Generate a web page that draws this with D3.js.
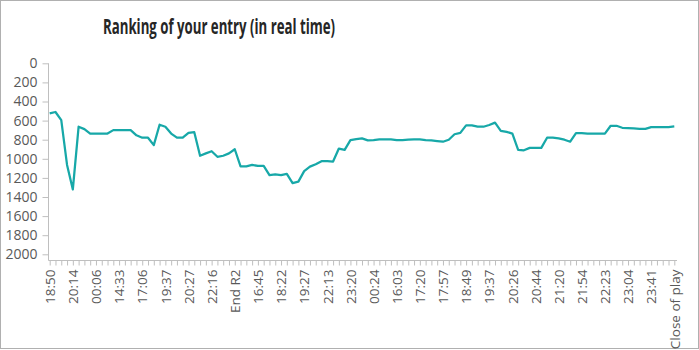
<!DOCTYPE html>
<html>
<head>
<meta charset="utf-8">
<script src="https://cdn.jsdelivr.net/npm/d3@7"></script>
<style>
  html, body { margin: 0; padding: 0; background: #fff; }
  svg { display: block; }
</style>
</head>
<body>
<svg id="chart" width="699" height="350"></svg>
<script>
// ---- data ----
const chartTitle = "Ranking of your entry (in real time)";
// labels shown on every 4th category
const tickLabels = ["18:50","20:14","00:06","14:33","17:06","19:37","20:27","22:16","End R2","16:45",
  "18:22","19:27","22:13","23:20","00:24","16:03","17:20","17:57","18:49","19:37",
  "20:26","20:44","21:20","21:54","22:23","23:04","23:41","Close of play"];
const labelEvery = 4;
// ranking at each time point
const ranking = [525,510,595,1064,1321,664,689,736,736,736,
  736,700,700,700,700,754,779,779,857,643,
  664,736,779,779,729,721,968,943,921,979,
  968,943,900,1079,1079,1064,1075,1075,1171,1164,
  1171,1157,1254,1239,1129,1082,1057,1025,1025,1029,
  893,907,804,793,786,807,804,796,796,796,
  804,804,800,796,796,804,807,814,821,800,
  743,729,650,650,664,664,646,621,707,718,
  736,907,911,886,886,886,779,779,786,800,
  821,732,732,736,736,736,736,654,654,675,
  679,682,686,686,668,668,668,668,661];
const yTicks = [0,200,400,600,800,1000,1200,1400,1600,1800,2000];

// ---- chart ----
const svg = d3.select("#chart");
const font = "'Open Sans', 'Segoe UI', sans-serif";
const titleFont = "'Open Sans', sans-serif";
const axisColor = "#bfbfbf";
const textColor = "#595959";

svg.append("rect").attr("x",0.5).attr("y",0.5).attr("width",698).attr("height",348)
  .attr("fill","#fff").attr("stroke","#b0b0b0").attr("stroke-width",1);

const idx = d3.range(ranking.length);
const x = d3.scalePoint().domain(idx).range([49.7, 674.3]);
const y = d3.scaleLinear().domain([0, 2000]).range([63.3, 254.3]);
const axisY = 260.5;
const axisX = 48.5;

// title
svg.append("text")
  .attr("x", 219).attr("y", 34)
  .attr("text-anchor","middle")
  .attr("font-family", titleFont).attr("font-weight","bold").attr("font-size", 21)
  .attr("fill","#262626")
  .attr("textLength", 232).attr("lengthAdjust","spacingAndGlyphs")
  .text(chartTitle);

// y axis
const yAxis = d3.axisLeft(y).tickValues(yTicks).tickSize(6).tickSizeOuter(0).tickPadding(5)
  .tickFormat(d3.format("d"));
const gy = svg.append("g").attr("transform", `translate(${axisX},0)`).call(yAxis);
gy.select(".domain").remove();
gy.selectAll(".tick line").attr("stroke", axisColor);
gy.selectAll(".tick text").attr("font-family", font).attr("font-size", 14).attr("fill", textColor);
svg.append("line").attr("x1",axisX).attr("x2",axisX).attr("y1",y(0)).attr("y2",axisY)
  .attr("stroke",axisColor);

// x axis
const xAxis = d3.axisBottom(x).tickSize(5).tickSizeOuter(0)
  .tickFormat(i => i % labelEvery === 0 ? tickLabels[i / labelEvery] : "");
const gx = svg.append("g").attr("transform", `translate(0,${axisY})`).call(xAxis);
gx.select(".domain").remove();
svg.append("line").attr("x1",axisX).attr("x2",677).attr("y1",axisY).attr("y2",axisY)
  .attr("stroke",axisColor);
gx.selectAll(".tick line").attr("stroke", axisColor);
gx.selectAll(".tick text")
  .attr("font-family", font).attr("font-size", 13.5).attr("fill", textColor)
  .attr("transform","rotate(-90)")
  .attr("text-anchor","end")
  .attr("x", -9).attr("y", 0).attr("dy","0.35em");

// line
const line = d3.line().x((d,i) => x(i)).y(d => y(d));
svg.append("path").datum(ranking)
  .attr("d", line)
  .attr("fill","none")
  .attr("stroke","#17a8a8")
  .attr("stroke-width",2.25)
  .attr("stroke-linejoin","round");
</script>
</body>
</html>
